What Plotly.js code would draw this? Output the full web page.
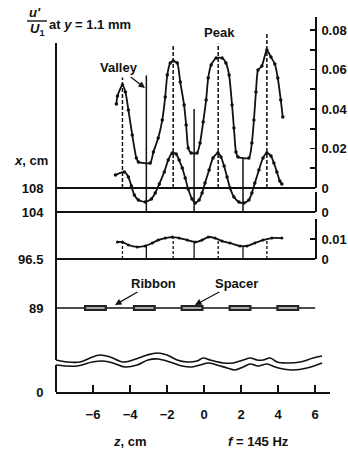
<!DOCTYPE html>
<html><head><meta charset="utf-8">
<script src="https://cdn.plot.ly/plotly-3.0.1.min.js"></script>
<style>html,body{margin:0;padding:0;background:#fff}#chart{width:348px;height:452px}</style>
</head><body><div id="chart"></div>
<script>
// ---------------- data ----------------
// u'/U1 at y = 1.1 mm, station x = 108 cm
const z108 = [-4.74,-4.68,-4.41,-4.25,-4.09,-3.88,-3.66,-3.55,-2.91,-2.74,-2.48,-2.26,-2.10,-1.99,-1.83,-1.67,-1.45,-1.29,-1.08,-0.97,-0.86,-0.70,-0.38,-0.22,-0.05,0.11,0.22,0.38,0.65,0.97,1.18,1.35,1.51,1.61,1.72,1.83,2.42,2.58,2.69,2.80,2.91,3.12,3.39,3.61,3.82,3.98,4.14,4.25];
const u108 = [0.0425,0.0466,0.0522,0.0486,0.0395,0.0268,0.0152,0.0132,0.0127,0.0182,0.0253,0.0344,0.0461,0.0572,0.0633,0.0643,0.0633,0.0537,0.0420,0.0319,0.0203,0.0177,0.0177,0.0228,0.0334,0.0446,0.0557,0.0623,0.0658,0.0658,0.0633,0.0572,0.0420,0.0304,0.0182,0.0157,0.0152,0.0228,0.0344,0.0486,0.0597,0.0618,0.0699,0.0663,0.0628,0.0557,0.0446,0.0359];
// station x = 104 cm
const z104 = [-4.79,-4.31,-4.09,-3.93,-3.77,-3.55,-3.18,-2.85,-2.64,-2.42,-2.15,-1.94,-1.72,-1.51,-1.35,-1.18,-1.02,-0.86,-0.65,-0.48,-0.27,-0.11,0.05,0.27,0.48,0.75,0.91,1.08,1.24,1.40,1.61,1.88,2.15,2.42,2.58,2.74,2.96,3.18,3.39,3.61,3.77,3.93,4.09,4.20];
const u104 = [0.0187,0.0203,0.0177,0.0132,0.0086,0.0061,0.0051,0.0066,0.0096,0.0142,0.0203,0.0263,0.0299,0.0294,0.0263,0.0223,0.0172,0.0116,0.0066,0.0046,0.0061,0.0096,0.0147,0.0213,0.0273,0.0299,0.0279,0.0233,0.0177,0.0122,0.0076,0.0051,0.0046,0.0061,0.0096,0.0147,0.0213,0.0273,0.0299,0.0284,0.0248,0.0203,0.0157,0.0142];
// station x = 96.5 cm
const z965 = [-4.68,-4.41,-4.09,-3.61,-3.18,-2.80,-2.48,-2.10,-1.72,-1.35,-0.91,-0.48,-0.11,0.22,0.59,0.97,1.40,1.94,2.31,2.74,3.18,3.66,4.20];
const u965 = [0.0086,0.0086,0.0071,0.0061,0.0066,0.0081,0.0096,0.0106,0.0111,0.0106,0.0096,0.0086,0.0096,0.0111,0.0106,0.0091,0.0081,0.0066,0.0066,0.0081,0.0096,0.0106,0.0106];
// spanwise positions of peaks / valleys / spacers (z, cm)
const peakZ = [-4.41, -1.67, 0.76, 3.39];
const peakLineTop = [0.056, 0.072, 0.073, 0.078];     // u'/U1 where dashed peak lines end (x = 108)
const valleyZ = [-3.12, -0.54, 2.10];
const valleyLineTop = [0.057, 0.040, 0.015];          // u'/U1 where valley lines end (x = 108)
const spacerZ = [-5.87, -3.23, -0.65, 1.94, 4.52];
// axis-break wavy lines (z, cm ; height above x = 0 line in px)
const waveUpperZ = [-8.0,-7.40,-6.70,-6.16,-5.62,-5.08,-4.38,-3.84,-3.08,-2.54,-2.00,-1.46,-0.92,-0.38,-0.05,0.32,1.03,1.57,2.11,2.49,2.86,3.19,3.57,3.94,4.48,5.19,5.89,6.37];
const waveUpperH = [32,30,30,34,37,35,30,32,37,39,37,32,30,31,34,32,29,29,32,34,32,32,34,30,29,30,34,36];
const waveLowerZ = [-8.0,-6.86,-6.05,-5.46,-4.92,-4.27,-3.62,-3.03,-2.49,-1.84,-1.19,-0.65,-0.22,0.22,0.70,1.24,1.67,2.11,2.49,2.92,3.40,3.84,4.27,4.81,5.56,6.37];
const waveLowerH = [27,26,30,31,29,25,27,32,33,30,26,25,27,29,27,24,22,25,28,26,28,25,23,22,24,29];
// tick labels
const stationLabels = ['108', '104', '96.5', '89', '0'];
const zTicks = [-6, -4, -2, 0, 2, 4, 6];
const zTickText = ['\u22126', '\u22124', '\u22122', '0', '2', '4', '6'];
const uTicks108 = [0, 0.02, 0.04, 0.06, 0.08];
const uTickText108 = ['0', '0.02', '0.04', '0.06', '0.08'];
const uTicks104 = [0];
const uTickText104 = ['0'];
const uTicks965 = [0, 0.01];
const uTickText965 = ['0', '0.01'];

// ---------------- layout geometry ----------------
const W = 348, H = 452, L = 56, R = 18, T = 15, B = 60;
const plotW = W - L - R, plotH = H - T - B;
const zMin = -8, zMax = 6.8;
const PX_PER_UNIT = 1975;                 // px per unit of u'/U1
const stationH = [204, 180, 133, 84, 0];  // station baseline heights above plot bottom (px)
const fx = p => (p - L) / plotW;          // page px -> paper x
const fy = p => (H - B - p) / plotH;      // page px -> paper y
const xRight = (6 - zMin) / (zMax - zMin);
const ink = '#111';
const fam = 'Liberation Sans, Arial, Helvetica, sans-serif';
const tickFont = {family: fam, size: 13, color: ink, weight: 'bold'};
const labFont = {family: fam, size: 13, color: ink, weight: 'bold'};

const overlayRange = h => [-h / PX_PER_UNIT, (plotH - h) / PX_PER_UNIT];
function interp(xs, ys, x) {
  for (let i = 0; i < xs.length - 1; i++) {
    if (x >= xs[i] && x <= xs[i + 1]) return ys[i] + (ys[i + 1] - ys[i]) * (x - xs[i]) / (xs[i + 1] - xs[i]);
  }
  return x < xs[0] ? ys[0] : ys[ys.length - 1];
}
function segs(zs, y0s, y1s) {
  const x = [], y = [];
  zs.forEach((z, i) => { x.push(z, z, null); y.push(y0s[i], y1s[i], null); });
  return {x, y};
}

const traces = [];
// dummy traces first so that the bracket / left axes are drawn (no backgrounds)
['y5', 'y6', 'y7', 'y8', 'y9'].forEach(ya => traces.push({x: [null], y: [null], xaxis: 'x', yaxis: ya, mode: 'lines'}));
// curves
traces.push({x: z108, y: u108, xaxis: 'x', yaxis: 'y2', mode: 'lines+markers',
  line: {color: ink, width: 1.8, shape: 'spline', smoothing: 0.6}, marker: {color: ink, size: 3.5}});
traces.push({x: z104, y: u104, xaxis: 'x', yaxis: 'y3', mode: 'lines+markers',
  line: {color: ink, width: 1.8, shape: 'spline', smoothing: 0.6}, marker: {color: ink, size: 3.5}});
traces.push({x: z965, y: u965, xaxis: 'x', yaxis: 'y4', mode: 'lines+markers',
  line: {color: ink, width: 1.8, shape: 'spline', smoothing: 0.6}, marker: {color: ink, size: 3}});
// peak (dashed) lines for x = 108
let s = segs(peakZ, peakZ.map(() => 0), peakLineTop);
traces.push({x: s.x, y: s.y, xaxis: 'x', yaxis: 'y2', mode: 'lines', line: {color: ink, width: 1.5, dash: '4px,2px'}});
// valley lines from x = 104 baseline
const base104In108 = -(stationH[0] - stationH[1]) / PX_PER_UNIT;
s = segs(valleyZ, valleyZ.map(() => base104In108), valleyLineTop);
traces.push({x: s.x, y: s.y, xaxis: 'x', yaxis: 'y2', mode: 'lines', line: {color: ink, width: 1.5}});
// drop lines for x = 96.5
s = segs(peakZ, peakZ.map(() => 0), peakZ.map(z => interp(z965, u965, z)));
traces.push({x: s.x, y: s.y, xaxis: 'x', yaxis: 'y4', mode: 'lines', line: {color: ink, width: 1.3, dash: '3px,2px'}});
s = segs(valleyZ, valleyZ.map(() => 0), valleyZ.map(z => interp(z965, u965, z)));
traces.push({x: s.x, y: s.y, xaxis: 'x', yaxis: 'y4', mode: 'lines', line: {color: ink, width: 1.3}});
// spacers on the ribbon
const spx = [], spy = [], spx2 = [], spy2 = [];
spacerZ.forEach(zc => { spx.push(zc - 0.62, zc + 0.62, null); spy.push(stationH[3], stationH[3], null);
  spx2.push(zc - 0.5, zc + 0.5, null); spy2.push(stationH[3], stationH[3], null); });
traces.push({x: spx, y: spy, xaxis: 'x', yaxis: 'y', mode: 'lines', line: {color: '#222', width: 6}});
traces.push({x: spx2, y: spy2, xaxis: 'x', yaxis: 'y', mode: 'lines', line: {color: '#aaa', width: 2}});
// axis-break wavy lines
traces.push({x: waveUpperZ, y: waveUpperH, xaxis: 'x', yaxis: 'y', mode: 'lines', line: {color: ink, width: 1.6, shape: 'spline', smoothing: 1}});
traces.push({x: waveLowerZ, y: waveLowerH, xaxis: 'x', yaxis: 'y', mode: 'lines', line: {color: ink, width: 1.6, shape: 'spline', smoothing: 1}});
traces.forEach(t => { t.showlegend = false; t.hoverinfo = 'skip'; });

const hidden = {visible: false, showgrid: false, zeroline: false, fixedrange: true};
const rightBase = {anchor: 'free', position: xRight, side: 'right', showline: true, linecolor: ink, linewidth: 1.6,
  ticks: 'inside', ticklen: 5, tickwidth: 1.6, tickcolor: ink, showgrid: false, zeroline: false,
  tickfont: tickFont, ticklabelstandoff: 2, tickmode: 'array',
  minor: {tickmode: 'linear', tick0: 0, dtick: 0.01, ticks: 'inside', ticklen: 5, tickwidth: 1.6, tickcolor: ink, showgrid: false}};
const leftBase = {anchor: 'free', position: 0, side: 'left', showline: true, linecolor: ink, linewidth: 2,
  ticks: '', showgrid: false, zeroline: false, tickfont: tickFont, ticklabelstandoff: 9, tickmode: 'array'};

const shapes = [];
// station baselines
['y2', 'y3', 'y4'].forEach(ya => shapes.push({type: 'line', xref: 'x', yref: ya, x0: zMin, x1: 6, y0: 0, y1: 0, line: {color: ink, width: 1.8}}));
// ribbon line
shapes.push({type: 'line', xref: 'x', yref: 'y', x0: zMin, x1: 6, y0: stationH[3], y1: stationH[3], line: {color: ink, width: 1.4}, layer: 'below'});
// fraction bar of the title
shapes.push({type: 'line', xref: 'paper', yref: 'paper', x0: fx(27), x1: fx(47), y0: fy(21), y1: fy(21), line: {color: ink, width: 1.4}});

const ann = (text, px, py, extra) => Object.assign({text, xref: 'paper', yref: 'paper', x: fx(px), y: fy(py),
  showarrow: false, font: labFont, xanchor: 'center', yanchor: 'middle'}, extra || {});
const arrowAnn = (text, hx, hy, tx, ty) => ({text, xref: 'paper', yref: 'paper', x: fx(hx), y: fy(hy),
  ax: tx - hx, ay: ty - hy, showarrow: true, arrowhead: 2, arrowsize: 1, arrowwidth: 1.3, arrowcolor: ink,
  font: labFont, standoff: 0, startstandoff: 0});

const layout = {
  width: W, height: H, margin: {l: L, r: R, t: T, b: B}, paper_bgcolor: '#fff', plot_bgcolor: 'rgba(0,0,0,0)',
  showlegend: false,
  title: {text: 'at <i>y</i> = 1.1 mm', font: labFont, xref: 'container', yref: 'container',
    x: 49 / W, xanchor: 'left', y: 1 - 24 / H, yanchor: 'middle'},
  xaxis: {range: [zMin, zMax], domain: [0, 1], anchor: 'y', showline: true, linecolor: ink, linewidth: 2,
    ticks: 'inside', ticklen: 7, tickwidth: 2, tickcolor: ink, tickmode: 'array', tickvals: zTicks, ticktext: zTickText,
    tickfont: tickFont, ticklabelstandoff: 9, showgrid: false, zeroline: false, fixedrange: true},
  yaxis: Object.assign({}, hidden, {range: [0, plotH], domain: [0, 1]}),
  yaxis2: Object.assign({}, hidden, {overlaying: 'y', range: overlayRange(stationH[0])}),
  yaxis3: Object.assign({}, hidden, {overlaying: 'y', range: overlayRange(stationH[1])}),
  yaxis4: Object.assign({}, hidden, {overlaying: 'y', range: overlayRange(stationH[2])}),
  // left axis (broken): lower piece with "0", upper piece with stations
  yaxis5: Object.assign({}, leftBase, {domain: [0, 27 / plotH], range: [0, 27], tickvals: [stationH[4]], ticktext: [stationLabels[4]]}),
  yaxis6: Object.assign({}, leftBase, {domain: [32 / plotH, 349 / plotH], range: [32, 349],
    tickvals: stationH.slice(0, 4), ticktext: stationLabels.slice(0, 4)}),
  // right-hand u'/U1 brackets
  yaxis7: Object.assign({}, rightBase, {domain: [stationH[0] / plotH, (stationH[0] + 171) / plotH], range: [0, 171 / PX_PER_UNIT],
    tickvals: uTicks108, ticktext: uTickText108}),
  yaxis8: Object.assign({}, rightBase, {domain: [stationH[1] / plotH, (stationH[1] + 0.01 * PX_PER_UNIT + 0.5) / plotH], range: [0, 0.01 + 0.5 / PX_PER_UNIT],
    tickvals: uTicks104, ticktext: uTickText104}),
  yaxis9: Object.assign({}, rightBase, {domain: [stationH[2] / plotH, (stationH[2] + 0.02 * PX_PER_UNIT + 0.5) / plotH], range: [0, 0.02 + 0.5 / PX_PER_UNIT],
    tickvals: uTicks965, ticktext: uTickText965}),
  shapes,
  annotations: [
    ann("<i>u'</i>", 35, 13),
    ann('<i>U</i><sub>1</sub>', 37, 29),
    ann('<i>x</i>, cm', 31, 160),
    arrowAnn('Valley', 145, 88, 119, 68),
    ann('Peak', 219, 32),
    arrowAnn('Ribbon', 115, 305, 153, 283),
    arrowAnn('Spacer', 195, 305, 236, 283),
    ann('<i>z</i>, cm', 130, 441),
    ann('<i>f</i> = 145 Hz', 258, 441)
  ]
};

Plotly.newPlot('chart', traces, layout, {staticPlot: true, displayModeBar: false});
</script>
</body></html>
